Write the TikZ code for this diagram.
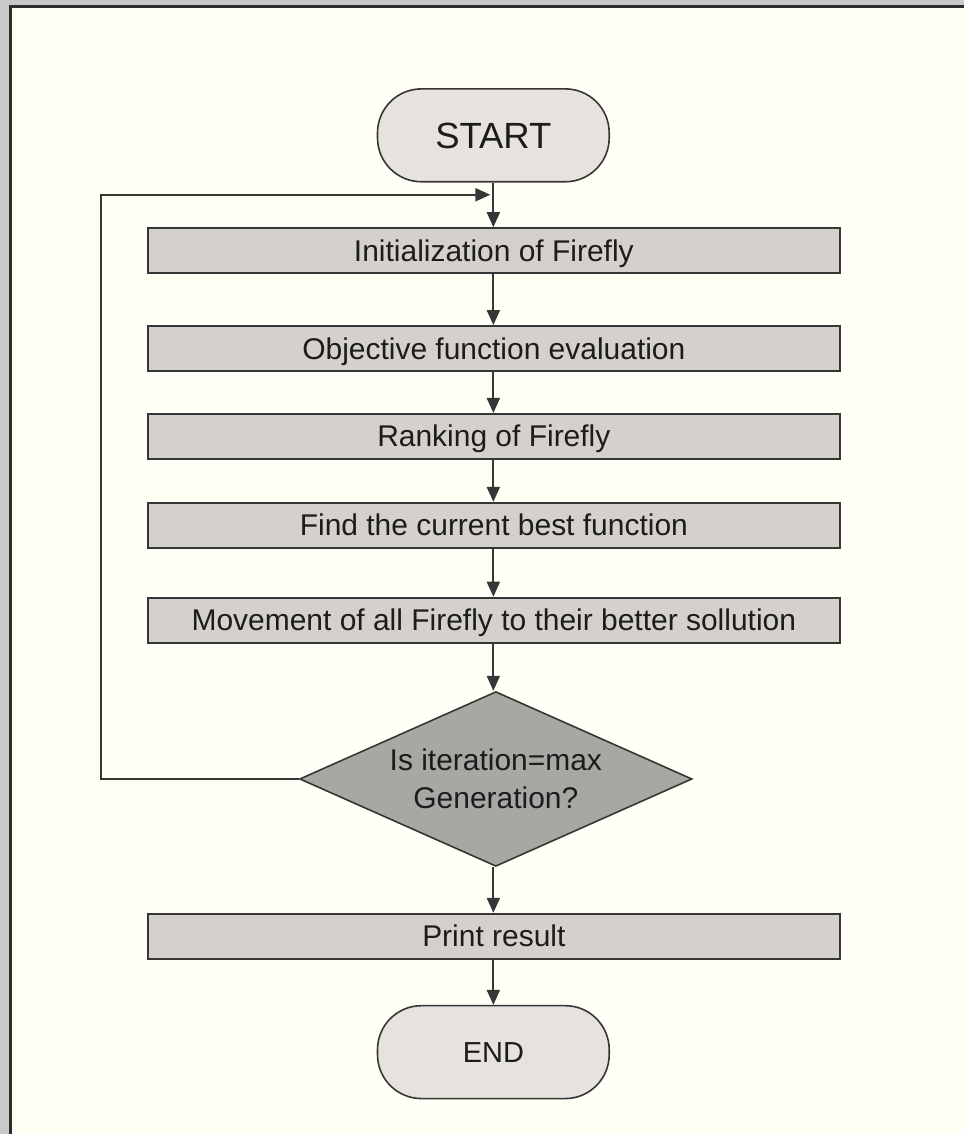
\documentclass[tikz,border=0pt]{standalone}
\usepackage{fontspec}
\setmainfont{Liberation Sans}
\usetikzlibrary{shapes.geometric,arrows.meta}

\definecolor{pagebg}{HTML}{FFFFF5}
\definecolor{framegray}{HTML}{C9C9C9}
\definecolor{framedark}{HTML}{2E2E2E}
\definecolor{edge}{HTML}{363636}
\definecolor{boxfill}{HTML}{D4D0CC}
\definecolor{termfill}{HTML}{E6E2DE}
\definecolor{decfill}{HTML}{A9A7A4}
\definecolor{ink}{HTML}{1C1C1C}

\tikzset{
  procbox/.style={draw=edge, line width=2pt, fill=boxfill, minimum width=693pt,
    minimum height=45pt, inner sep=0pt, text=ink, text height=21pt, text depth=0pt,
    font=\fontsize{30}{34}\selectfont},
  termbox/.style={draw=edge, line width=1.6pt, fill=termfill, minimum width=232pt,
    minimum height=93pt, rounded corners=44pt, inner sep=0pt, text=ink},
  decbox/.style={diamond, aspect=2.25, draw=edge, line width=1.6pt, fill=decfill,
    minimum width=393pt, minimum height=175pt, inner sep=0pt, text=ink,
    align=center, font=\fontsize{30}{38}\selectfont},
  arr/.style={draw=edge, line width=2pt, -{Triangle[length=15pt,width=13pt]}},
}

\begin{document}
\begin{tikzpicture}[x=1pt,y=-1pt]
  % window frame and page
  \fill[framegray] (0,0) rectangle (965,1135);
  \fill[pagebg] (10.5,6.5) rectangle (965,1135);
  \draw[framedark, line width=3pt] (10.5,1135) -- (10.5,6.5) -- (965,6.5);
  \useasboundingbox (0,0) rectangle (965,1135);

  % flow steps
  \node[termbox, font=\fontsize{36.5}{40}\selectfont, text height=26pt, text depth=0pt]
    (start) at (494,135.5) {START};
  \node[procbox] (init) at (494.5,251) {Initialization of Firefly};
  \node[procbox] (obj)  at (494.5,349) {Objective function evaluation};
  \node[procbox] (rank) at (494.5,437) {Ranking of Firefly};
  \node[procbox] (best) at (494.5,526) {Find the current best function};
  \node[procbox] (move) at (494.5,621) {Movement of all Firefly to their better sollution};
  \node[decbox]  (dec)  at (496.5,780) {Is iteration=max\\Generation?};
  \node[procbox] (print) at (494.5,937.5) {Print result};
  \node[termbox, font=\fontsize{29}{34}\selectfont, text height=21pt, text depth=0pt]
    (stop) at (494,1053.5) {END};

  % loop-back route
  \coordinate (join) at (494,195);
  \coordinate (leftrail) at (101,0);

  % connectors
  \draw[arr] (start.south) -- (init.north -| start.south);
  \draw[arr] (init.south -| start.south) -- (obj.north -| start.south);
  \draw[arr] (obj.south -| start.south) -- (rank.north -| start.south);
  \draw[arr] (rank.south -| start.south) -- (best.north -| start.south);
  \draw[arr] (best.south -| start.south) -- (move.north -| start.south);
  \draw[arr] (move.south -| start.south) -- (dec.north -| start.south);
  \draw[arr] (dec.south -| start.south) -- (print.north -| start.south);
  \draw[arr] (print.south -| start.south) -- (stop.north);
  \draw[arr] (dec.west) -- (dec.west -| leftrail) |- ([xshift=-3pt]join);
\end{tikzpicture}
\end{document}
